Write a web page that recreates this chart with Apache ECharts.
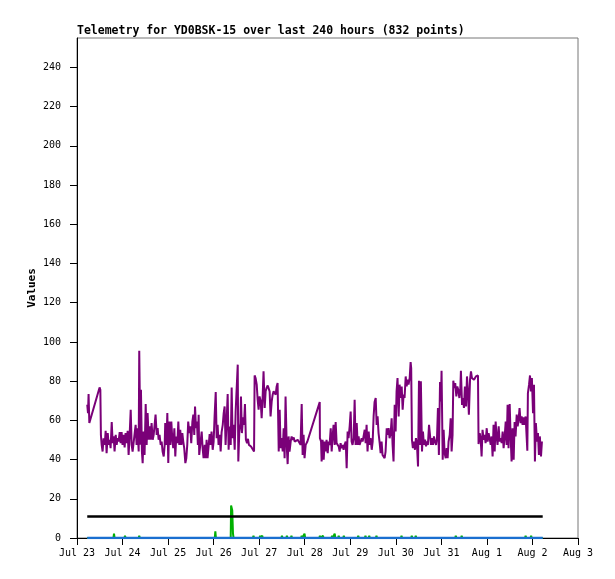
<!DOCTYPE html>
<html>
<head>
<meta charset="utf-8">
<script src="https://cdn.jsdelivr.net/npm/echarts@6/dist/echarts.min.js"></script>
<style>
html,body{margin:0;padding:0;background:#fff;}
#chart{width:615px;height:579px;}
</style>
</head>
<body>
<div id="chart"></div>
<script>
// Hours since Jul 23 00:00
const xTickLabels = ['Jul 23','Jul 24','Jul 25','Jul 26','Jul 27','Jul 28','Jul 29','Jul 30','Jul 31','Aug 1','Aug 2','Aug 3'];
const yTickValues = [0,20,40,60,80,100,120,140,160,180,200,220,240];

const purpleHours = [
5.4,5.8,6.1,6.5,7.0,11.9,12.3,12.6,13.0,13.5,14.0,14.6,15.1,15.6,16.2,16.7,17.2,17.7,18.3,18.8,19.3,19.8,20.4,20.9,21.4,21.9,22.5,23.0,23.5,24.0,24.6,25.1,25.6,26.2,26.7,27.2,27.7,28.3,28.8,29.3,29.8,30.4,30.9,31.4,31.9,32.5,32.8,33.4,33.7,34.2,34.6,35.1,35.6,36.2,36.7,37.2,37.8,38.3,38.8,39.3,39.9,40.4,40.9,41.4,42.0,42.5,43.0,43.5,44.1,44.6,45.1,45.7,46.2,46.5,47.1,47.6,48.1,48.6,49.2,49.7,50.2,50.7,51.3,51.8,52.3,52.9,53.4,53.9,54.4,55.0,55.5,56.0,56.5,57.1,57.6,58.1,58.6,59.2,59.7,60.2,60.8,61.3,61.8,62.2,62.7,63.2,63.7,64.1,64.4,
65.2,65.7,66.2,66.7,67.3,67.8,68.3,68.8,69.4,69.9,70.4,70.9,71.5,72.0,72.5,73.1,73.6,74.1,74.6,75.2,75.7,76.2,76.8,77.3,77.8,78.3,78.9,79.4,79.9,80.4,81.0,81.5,82.0,82.5,83.1,83.6,84.1,84.7,85.0,85.5,86.1,86.4,86.9,87.5,88.0,88.5,89.0,89.6,90.1,90.6,91.1,91.7,92.2,92.7,93.3,93.6,94.1,94.7,95.2,95.7,96.2,96.8,97.3,97.8,98.3,98.9,99.4,99.9,100.5,101.0,101.5,102.0,102.6,103.1,103.6,104.1,104.7,105.2,105.7,106.3,106.8,107.3,107.8,108.4,108.9,109.4,109.9,110.5,111.0,111.5,112.0,112.6,113.1,113.6,114.2,114.7,115.2,115.7,116.3,116.8,117.3,117.8,118.4,118.9,119.4,119.9,120.5,121.0,121.4,
127.9,128.0,128.6,128.9,129.4,130.0,130.5,131.0,131.5,132.1,132.6,133.1,133.7,134.2,134.7,135.2,135.8,136.3,136.8,137.3,137.9,138.4,138.9,139.4,140.0,140.5,141.0,141.6,142.1,142.6,143.1,143.7,144.2,144.7,145.2,145.8,146.3,146.8,147.4,147.9,148.4,148.9,149.5,150.0,150.5,151.0,151.6,152.1,152.6,153.1,153.7,154.2,154.7,155.3,155.8,156.3,156.8,157.4,157.9,158.4,158.9,159.5,160.0,160.5,161.0,161.6,162.1,162.6,163.2,163.7,164.2,164.7,165.3,165.8,166.3,166.8,167.4,167.9,168.4,168.9,169.5,170.0,170.5,171.1,171.6,172.1,172.6,173.2,173.7,174.2,174.7,175.3,175.8,176.1,176.5,177.0,177.6,178.1,178.6,179.1,179.7,180.2,180.7,181.2,181.8,182.3,182.8,183.4,183.9,184.4,184.9,185.5,
186.0,186.5,187.1,187.6,188.1,188.6,189.2,189.7,190.2,190.7,191.3,191.8,192.1,192.7,193.2,193.7,194.3,194.8,195.3,195.8,196.4,196.9,197.4,197.9,198.3,198.8,199.3,199.9,200.4,200.9,201.5,202.0,202.3,202.9,203.4,203.9,204.4,205.0,205.5,206.0,206.5,207.1,207.6,208.1,208.7,209.2,209.7,210.2,210.8,211.3,211.6,212.2,212.7,213.2,213.7,214.3,214.8,215.3,215.9,216.4,216.9,217.4,218.0,218.5,219.0,219.5,220.1,220.6,221.1,221.6,222.2,222.7,223.2,223.8,224.3,224.8,225.3,225.9,226.4,226.9,227.4,228.0,228.5,229.0,229.5,230.1,230.6,231.1,231.7,232.2,232.7,233.2,233.8,234.3,234.8,235.3,235.9,236.4,236.9,237.3,237.6,238.2,238.7,239.2,239.7,240.3,240.8,241.3,241.8,242.4,242.9,243.4,243.9,244.5,245.0
];
const purpleValues = [
68.0,63.7,73.4,58.6,60.3,76.8,75.6,52.6,47.5,44.1,50.9,47.5,54.7,43.3,53.5,47.5,50.1,45.8,59.1,48.4,51.8,44.1,52.6,47.5,50.9,49.2,54.0,48.4,54.0,47.5,52.6,46.2,53.5,48.4,54.7,42.4,51.8,65.4,47.5,44.1,48.4,53.5,57.7,47.5,56.0,44.1,95.5,47.5,75.6,44.1,38.2,54.3,42.4,68.3,47.5,63.7,50.1,56.9,50.1,58.6,50.1,52.6,57.7,62.9,52.6,56.0,50.1,52.6,47.5,49.2,44.1,41.6,47.5,58.6,47.5,63.7,38.2,59.4,47.5,59.4,50.9,45.8,56.0,41.6,51.8,48.4,59.4,47.5,55.2,47.5,53.5,49.2,45.8,38.2,40.7,47.5,59.4,53.5,56.9,48.4,59.4,62.9,52.6,67.1,56.0,59.4,47.5,62.9,42.4,
42.4,54.3,45.8,40.7,47.5,40.7,50.1,40.7,47.5,53.0,47.5,54.3,45.0,49.2,62.0,74.4,50.9,57.7,47.5,52.6,44.1,54.0,57.7,63.7,67.1,47.5,61.1,73.4,45.0,56.9,47.5,76.8,50.9,57.7,45.0,64.5,65.4,88.4,39.0,53.5,58.6,72.2,53.5,61.5,57.7,68.3,50.1,48.4,50.6,47.5,48.4,46.7,47.5,45.8,44.1,82.9,81.6,78.2,70.5,65.4,72.2,69.7,61.1,71.4,85.0,66.3,74.8,76.5,77.8,77.3,74.8,62.0,69.7,73.1,74.8,75.6,73.1,77.3,79.0,44.1,65.4,45.8,50.9,44.1,56.0,40.7,72.2,47.5,37.7,51.8,44.1,49.2,51.8,50.1,51.3,49.2,49.2,48.4,50.1,49.2,50.1,47.5,68.3,42.4,52.6,40.7,47.5,48.4,49.2,
69.3,50.9,49.2,39.0,50.1,39.9,49.2,44.1,50.1,43.3,49.2,47.5,56.0,44.1,51.8,57.7,47.5,59.1,48.4,47.5,46.7,44.1,48.4,45.8,47.5,45.0,47.5,49.2,35.6,54.3,50.9,57.2,64.5,49.2,47.5,50.9,70.5,47.5,58.6,47.5,51.8,47.5,49.2,50.9,49.2,51.8,55.2,48.4,57.7,44.1,54.3,47.5,50.9,45.0,49.2,62.0,69.3,71.4,57.7,62.0,53.5,48.4,43.3,49.2,42.4,43.3,40.7,44.1,56.0,52.6,56.0,50.9,53.5,61.1,47.5,39.0,67.9,54.3,74.8,81.6,62.0,78.2,71.4,77.3,65.4,73.1,71.4,82.4,77.3,80.7,78.2,81.6,89.7,86.7,50.1,45.8,49.2,45.0,50.9,48.4,36.5,80.2,47.5,79.9,44.1,54.3,47.5,50.1,46.7,49.2,47.5,57.7,
57.7,47.5,50.9,47.5,51.8,49.2,47.5,50.9,66.3,42.4,79.5,69.7,85.3,39.9,55.2,43.3,40.7,45.8,40.7,49.2,52.6,61.1,44.1,52.6,80.2,76.5,79.0,72.2,77.3,75.6,71.4,76.5,85.3,67.9,71.4,66.3,77.3,67.1,82.4,74.8,62.9,80.7,85.0,81.6,82.4,80.7,81.6,82.4,82.9,82.9,47.9,53.5,50.9,41.6,55.2,50.1,52.6,48.4,56.0,49.2,53.5,50.9,47.5,51.8,41.6,57.7,44.1,59.4,51.8,47.5,56.9,49.2,50.9,48.4,54.3,45.8,50.9,59.4,47.5,67.9,45.8,68.3,51.8,39.0,56.0,39.9,59.1,51.8,62.9,56.9,60.3,66.3,58.6,62.0,57.7,61.5,57.7,62.0,62.9,44.5,73.9,78.2,82.9,74.8,81.6,63.7,78.2,39.0,58.6,49.2,53.5,42.4,51.8,41.6,49.2
];

const greenHours = [5.4,19.2,19.5,19.8,25.0,25.3,25.6,32.5,32.8,33.1,72.6,72.9,73.2,81.0,81.2,81.8,82.2,82.5,92.7,93.0,93.3,96.2,96.5,96.8,97.3,97.6,97.9,107.7,108.0,108.3,110.3,110.6,110.9,112.7,113.0,113.3,118.1,118.4,118.7,119.6,119.9,120.2,127.7,128.0,128.3,129.3,129.6,129.9,134.1,134.4,134.7,135.5,135.8,136.1,137.6,137.9,138.2,140.3,140.6,140.9,147.9,148.2,148.5,151.7,152.0,152.3,153.7,154.0,154.3,157.5,157.8,158.1,170.7,171.0,171.3,176.1,176.4,176.7,178.2,178.5,178.8,199.3,199.6,199.9,202.4,202.7,203.0,236.1,236.4,236.7,239.0,239.3,239.6,245.4];
const greenValues = [0,0,2.2,0,0,1.2,0,0,1.2,0,0,3.4,0,0,16.6,14.2,2.2,0,0,1.2,0,0,1.2,0,0,1.2,0,0,1.2,0,0,1.2,0,0,1.2,0,0,1.2,0,0,2.2,0,0,1.2,0,0,1.2,0,0,1.2,0,0,2.2,0,0,1.2,0,0,1.2,0,0,1.2,0,0,1.2,0,0,1.2,0,0,1.2,0,0,1.2,0,0,1.2,0,0,1.2,0,0,1.2,0,0,1.2,0,0,1.2,0,0,1.2,0,0];

const blackHours = [5.4,245.4];
const blackValues = [11,11];
const blueHours = [5.4,245.4];
const blueValues = [0,0];

const zip = (a,b) => a.map((h,i) => [h,b[i]]);

const chart = echarts.init(document.getElementById('chart'), null, {renderer:'canvas'});
const mono = "'DejaVu Sans Mono', 'Liberation Mono', monospace";
chart.setOption({
  animation: false,
  backgroundColor: '#ffffff',
  title: {
    text: 'Telemetry for YD0BSK-15 over last 240 hours (832 points)',
    left: 77, top: 25, padding: 0,
    textStyle: {fontFamily: mono, fontSize: 11.5, fontWeight: 'bold', color: '#000'}
  },
  grid: {left: 77, right: 37, top: 38, bottom: 41, show: true, borderColor: '#777', borderWidth: 1, backgroundColor: 'transparent'},
  xAxis: {
    type: 'value', min: 0, max: 264, interval: 24,
    axisLine: {show: true, lineStyle: {color: '#000', width: 1}},
    axisTick: {show: true, length: 7, lineStyle: {color: '#000'}},
    axisLabel: {
      margin: 10, fontFamily: mono, fontSize: 10, color: '#000',
      formatter: v => xTickLabels[Math.round(v/24)] || ''
    },
    splitLine: {show: false}
  },
  yAxis: {
    type: 'value', min: 0, max: 255,
    name: 'Values', nameLocation: 'middle', nameGap: 39, nameRotate: 90, nameMoveOverlap: false,
    nameTextStyle: {fontFamily: mono, fontSize: 11, fontWeight: 'bold', color: '#000'},
    axisLine: {show: true, lineStyle: {color: '#000', width: 1}},
    axisTick: {show: true, length: 7, customValues: yTickValues, lineStyle: {color: '#000'}},
    axisLabel: {margin: 16, fontFamily: mono, fontSize: 10, color: '#000', customValues: yTickValues},
    splitLine: {show: false}
  },
  series: [
    {type: 'line', data: zip(purpleHours, purpleValues), showSymbol: false, symbol: 'none',
     lineStyle: {color: '#7a0078', width: 2}, z: 2},
    {type: 'line', data: zip(greenHours, greenValues), showSymbol: false, symbol: 'none',
     lineStyle: {color: '#00b000', width: 2}, z: 3},
    {type: 'line', data: zip(blueHours, blueValues), showSymbol: false, symbol: 'none',
     lineStyle: {color: '#1a6fd0', width: 2.5}, z: 4},
    {type: 'line', data: zip(blackHours, blackValues), showSymbol: false, symbol: 'none',
     lineStyle: {color: '#000000', width: 2.5}, z: 4}
  ]
});
</script>
</body>
</html>
